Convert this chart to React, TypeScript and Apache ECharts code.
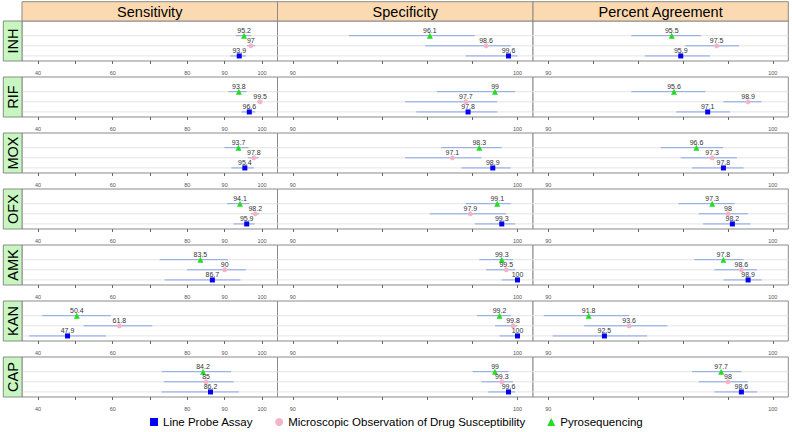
import React, { useEffect, useRef } from "react";
import * as echarts from "echarts";

const DRUGS = ["INH", "RIF", "MOX", "OFX", "AMK", "KAN", "CAP"];
const MEASURES = ["Sensitivity", "Specificity", "Percent Agreement"];
const METHODS = [
  "Line Probe Assay",
  "Microscopic Observation of Drug Susceptibility",
  "Pyrosequencing",
];

// Line Probe Assay
const LPA_SENS = [93.9, 96.6, 95.4, 95.9, 86.7, 47.9, 86.2];
const LPA_SENS_LO = [91.5, 94.5, 91.8, 92.4, 73.9, 37.6, 73.1];
const LPA_SENS_HI = [95.7, 98.2, 97.8, 98.0, 94.2, 58.2, 93.8];
const LPA_SPEC = [99.6, 97.8, 98.9, 99.3, 100, 100, 99.6];
const LPA_SPEC_LO = [97.7, 95.5, 97.5, 98.1, 99.3, 99.2, 98.7];
const LPA_SPEC_HI = [100, 99.1, 99.7, 99.9, 100, 100, 99.9];
const LPA_PA = [95.9, 97.1, 97.8, 98.2, 98.9, 92.5, 98.6];
const LPA_PA_LO = [94.3, 95.7, 96.4, 96.9, 97.8, 90.2, 97.4];
const LPA_PA_HI = [97.2, 98.1, 98.7, 99.0, 99.5, 94.4, 99.3];

// Microscopic Observation of Drug Susceptibility
const MODS_SENS = [97, 99.5, 97.8, 98.2, 90, 61.8, 85];
const MODS_SENS_LO = [96.0, 98.7, 96.2, 97.1, 79.9, 52.2, 73.7];
const MODS_SENS_HI = [98.2, 100, 99.1, 99.3, 95.7, 70.6, 92.4];
const MODS_SPEC = [98.6, 97.7, 97.1, 97.9, 99.5, 99.8, 99.3];
const MODS_SPEC_LO = [95.9, 95.0, 95.0, 96.1, 98.6, 99.0, 98.4];
const MODS_SPEC_HI = [99.7, 99.1, 98.4, 99.5, 99.9, 100, 99.8];
const MODS_PA = [97.5, 98.9, 97.3, 98, 98.6, 93.6, 98];
const MODS_PA_LO = [96.1, 97.8, 95.9, 96.7, 97.4, 91.6, 96.7];
const MODS_PA_HI = [98.5, 99.5, 98.4, 98.9, 99.3, 95.3, 98.9];

// Pyrosequencing
const PYRO_SENS = [95.2, 93.8, 93.7, 94.1, 83.5, 50.4, 84.2];
const PYRO_SENS_LO = [93.0, 91.0, 89.9, 90.6, 72.6, 41.1, 73.1];
const PYRO_SENS_HI = [97.1, 95.8, 96.4, 96.6, 90.9, 59.5, 91.7];
const PYRO_SPEC = [96.1, 99, 98.3, 99.1, 99.3, 99.2, 99];
const PYRO_SPEC_LO = [92.5, 96.4, 96.6, 97.7, 98.3, 98.2, 98.0];
const PYRO_SPEC_HI = [98.1, 99.9, 99.3, 99.7, 99.8, 99.7, 99.6];
const PYRO_PA = [95.5, 95.6, 96.6, 97.3, 97.8, 91.8, 97.7];
const PYRO_PA_LO = [93.7, 93.7, 95.0, 95.8, 96.5, 89.8, 96.4];
const PYRO_PA_HI = [96.8, 97.0, 97.8, 98.3, 98.7, 93.6, 98.6];

const EST = [
  [LPA_SENS, LPA_SPEC, LPA_PA],
  [MODS_SENS, MODS_SPEC, MODS_PA],
  [PYRO_SENS, PYRO_SPEC, PYRO_PA],
];
const LO = [
  [LPA_SENS_LO, LPA_SPEC_LO, LPA_PA_LO],
  [MODS_SENS_LO, MODS_SPEC_LO, MODS_PA_LO],
  [PYRO_SENS_LO, PYRO_SPEC_LO, PYRO_PA_LO],
];
const HI = [
  [LPA_SENS_HI, LPA_SPEC_HI, LPA_PA_HI],
  [MODS_SENS_HI, MODS_SPEC_HI, MODS_PA_HI],
  [PYRO_SENS_HI, PYRO_SPEC_HI, PYRO_PA_HI],
];

const X_TICKS = [
  [40, 50, 60, 70, 80, 90, 100],
  [90, 92, 94, 96, 98, 100],
  [90, 92, 94, 96, 98, 100],
];
const X_LABELS = [
  [40, 60, 80, 90, 100],
  [90, 100],
  [90, 100],
];
const X_RANGE = [
  [35.7, 104.15],
  [89.32, 100.69],
  [89.32, 100.69],
];

// layout / style
const COL_LEFT = [22, 277.5, 533];
const COL_W = [255.5, 255.5, 255.3];
const ROW_TOP0 = 21;
const ROW_STEP = 56;
const PANEL_H = 40;
const METHOD_Y = [1, 2, 3];
const METHOD_COLOR = ["#0000EE", "#F4B4C6", "#22DD22"];
const METHOD_SYMBOL = ["rect", "circle", "triangle"];
const METHOD_SIZE = [5, 5, 6];
const FONT = "'Liberation Sans', Arial, sans-serif";
const BORDER = "#8a8a8a";

function buildOption() {
  const grid: any[] = [];
  const xAxis: any[] = [];
  const yAxis: any[] = [];
  const series: any[] = [];
  const graphic: any[] = [];

  DRUGS.forEach((drug, r) => {
    const top = ROW_TOP0 + ROW_STEP * r;
    MEASURES.forEach((m, c) => {
      const idx = r * 3 + c;
      grid.push({
        left: COL_LEFT[c],
        top,
        width: COL_W[c],
        height: PANEL_H,
        show: true,
        borderColor: BORDER,
        borderWidth: 1,
        backgroundColor: "#ffffff",
        containLabel: false,
      });
      xAxis.push({
        type: "value",
        gridIndex: idx,
        min: X_RANGE[c][0],
        max: X_RANGE[c][1],
        axisLine: { show: false },
        splitLine: { show: false },
        axisTick: {
          show: true,
          length: 3,
          customValues: X_TICKS[c],
          lineStyle: { color: "#666" },
        },
        axisLabel: {
          show: true,
          customValues: X_LABELS[c],
          fontSize: 5.5,
          color: "#555",
          margin: 8.5,
          fontFamily: FONT,
        },
      });
      yAxis.push({
        type: "value",
        gridIndex: idx,
        min: 0.5,
        max: 4.45,
        show: false,
      });
      // error bars + light gridlines
      const barData = METHODS.map((_, k) => [LO[k][c][r], HI[k][c][r], METHOD_Y[k]]);
      series.push({
        type: "custom",
        xAxisIndex: idx,
        yAxisIndex: idx,
        silent: true,
        z: 1,
        encode: { x: [0, 1], y: 2 },
        data: barData,
        renderItem: (params: any, api: any) => {
          const y = api.value(2);
          const p1 = api.coord([api.value(0), y]);
          const p2 = api.coord([api.value(1), y]);
          const cs = params.coordSys;
          return {
            type: "group",
            children: [
              {
                type: "line",
                shape: { x1: cs.x, y1: p1[1], x2: cs.x + cs.width, y2: p1[1] },
                style: { stroke: "#e4e4e4", lineWidth: 1 },
              },
              {
                type: "line",
                shape: { x1: p1[0], y1: p1[1], x2: p2[0], y2: p2[1] },
                style: { stroke: "#8AA6E6", lineWidth: 1 },
              },
            ],
          };
        },
      });
      METHODS.forEach((name, k) => {
        series.push({
          type: "scatter",
          name,
          xAxisIndex: idx,
          yAxisIndex: idx,
          z: 3,
          symbol: METHOD_SYMBOL[k],
          symbolSize: METHOD_SIZE[k],
          itemStyle: { color: METHOD_COLOR[k], opacity: 1 },
          data: [[EST[k][c][r], METHOD_Y[k]]],
          label: {
            show: true,
            position: "inside",
            offset: [0, -5],
            formatter: (p: any) => String(p.value[0]),
            fontSize: 7,
            color: "#333",
            fontFamily: FONT,
          },
          emphasis: { disabled: true },
        });
      });
    });
    // left strip
    graphic.push({
      type: "rect",
      shape: { x: 3.3, y: top, width: 18.7, height: PANEL_H },
      style: { fill: "#C8F6C0", stroke: BORDER, lineWidth: 1 },
      z: 10,
    });
    graphic.push({
      type: "text",
      x: 12.8,
      y: top + PANEL_H / 2,
      rotation: Math.PI / 2,
      style: {
        text: drug,
        fontSize: 14.5,
        fontFamily: FONT,
        fill: "#000",
        align: "center",
        verticalAlign: "middle",
      },
      z: 11,
    });
  });

  MEASURES.forEach((m, c) => {
    graphic.push({
      type: "rect",
      shape: { x: COL_LEFT[c], y: 1.7, width: COL_W[c], height: 19.3 },
      style: { fill: "#FCDAB1", stroke: BORDER, lineWidth: 1 },
      z: 10,
    });
    graphic.push({
      type: "text",
      x: COL_LEFT[c] + COL_W[c] / 2,
      y: 11.5,
      style: {
        text: m,
        fontSize: 14.5,
        fontFamily: FONT,
        fill: "#000",
        align: "center",
        verticalAlign: "middle",
      },
      z: 11,
    });
  });

  return {
    animation: false,
    backgroundColor: "#ffffff",
    textStyle: { fontFamily: FONT },
    grid,
    xAxis,
    yAxis,
    series,
    graphic,
    legend: {
      show: true,
      left: 150,
      top: 416,
      padding: 0,
      itemWidth: 8,
      itemHeight: 8,
      itemGap: 22,
      selectedMode: false,
      textStyle: { fontSize: 11.5, color: "#000", fontFamily: FONT },
      data: METHODS.map((name, k) => ({ name, icon: METHOD_SYMBOL[k] })),
    },
  };
}

export default function App() {
  const ref = useRef<HTMLDivElement>(null);
  useEffect(() => {
    document.body.style.margin = "0";
    if (!ref.current) return;
    const chart = echarts.init(ref.current, null, { renderer: "svg" });
    chart.setOption(buildOption());
    return () => chart.dispose();
  }, []);
  return <div ref={ref} style={{ width: 792, height: 432 }} />;
}
